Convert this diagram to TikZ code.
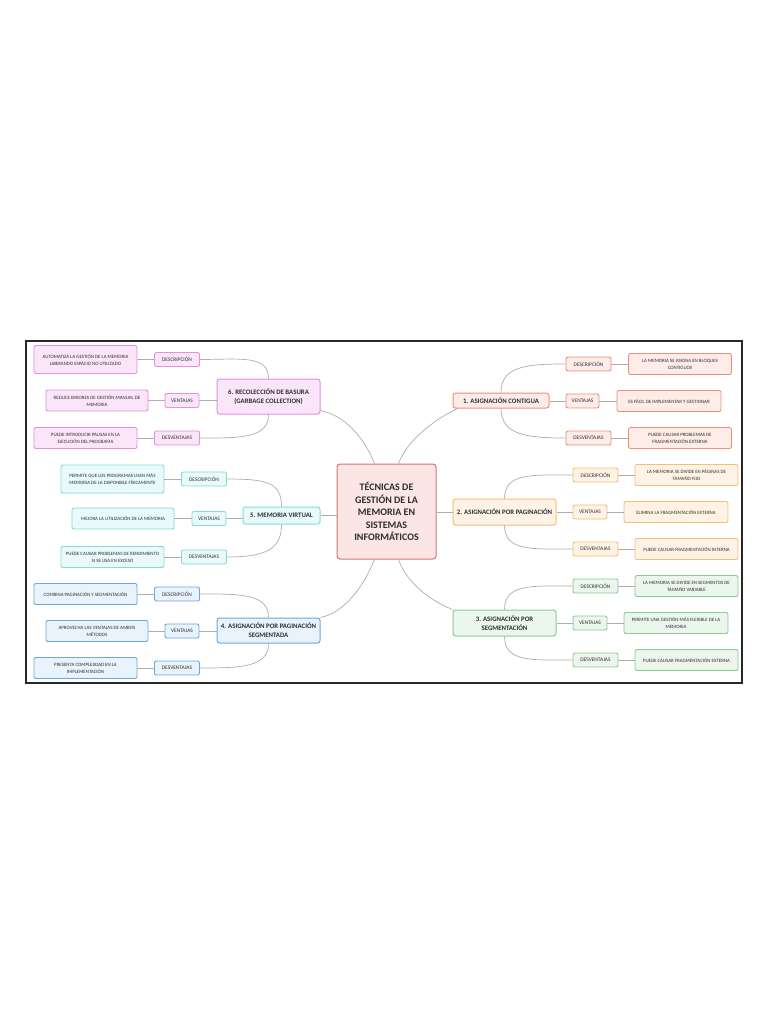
\documentclass[tikz,border=0pt]{standalone}
\usepackage{fontspec}
\setmainfont{Carlito}
\definecolor{rojoB}{HTML}{EE8F7C}    \definecolor{rojoF}{HTML}{FDECE7}
\definecolor{naranjaB}{HTML}{F4BF77} \definecolor{naranjaF}{HTML}{FEF3E5}
\definecolor{verdeB}{HTML}{8CCB96}   \definecolor{verdeF}{HTML}{EBF6EC}
\definecolor{azulB}{HTML}{6BA8DF}    \definecolor{azulF}{HTML}{E9F3FC}
\definecolor{cianB}{HTML}{86DADC}    \definecolor{cianF}{HTML}{E8FAFA}
\definecolor{rosaB}{HTML}{E48FDF}    \definecolor{rosaF}{HTML}{FBE5F8}
\definecolor{centroB}{HTML}{D8736E}  \definecolor{centroF}{HTML}{FBE6E5}
\definecolor{linea}{HTML}{ADADAD}
\definecolor{texto}{HTML}{2E2E2E}

\begin{document}
\begin{tikzpicture}[x=1pt, y=-1pt,
    root/.style = {draw=centroB, fill=centroF, line width=1pt, rounded corners=3, minimum width=99, minimum height=95, align=center, text=texto, font=\fontsize{10}{12.5}\selectfont\bfseries},
    branch/.style = {draw=#1B, fill=#1F, line width=1pt, rounded corners=2.5, minimum width=103, minimum height=25, inner sep=2, align=center, text=texto, font=\fontsize{6.8}{9}\selectfont\bfseries},
    tag/.style = {draw=#1B, fill=#1F, line width=0.9pt, rounded corners=2, minimum width=45, minimum height=14, inner sep=1, text=texto, font=\fontsize{5.4}{6}\selectfont},
    leaf/.style = {draw=#1B, fill=#1F, line width=0.9pt, rounded corners=2, minimum width=103, minimum height=21, inner sep=2, align=center, text=texto, font=\fontsize{4.9}{7}\selectfont},
    link/.style = {draw=linea, line width=0.7pt}]
    \useasboundingbox[fill=white] (0,0) rectangle (768,1024);
    \draw[line width=1.2pt, black!85] (26,341) rectangle (742,683);

    \node[root] (r) at (386.5,511.5) {TÉCNICAS DE\\GESTIÓN DE LA\\MEMORIA EN\\SISTEMAS\\INFORMÁTICOS};

    % 1. asignacion contigua
    \node[branch=rojo, minimum width=96, minimum height=15] (b1) at (501,400.5) {1. ASIGNACIÓN CONTIGUA};
    \node[tag=rojo] (d1) at (588.5,364) {DESCRIPCIÓN};
    \node[tag=rojo, minimum width=33] (v1) at (582.5,401) {VENTAJAS};
    \node[tag=rojo] (x1) at (588.5,438) {DESVENTAJAS};
    \node[leaf=rojo] (ld1) at (680,364) {LA MEMORIA SE ASIGNA EN BLOQUES\\CONTIGUOS};
    \node[leaf=rojo, minimum width=104] (lv1) at (669,401) {ES FÁCIL DE IMPLEMENTAR Y GESTIONAR};
    \node[leaf=rojo] (lx1) at (680,438) {PUEDE CAUSAR PROBLEMAS DE\\FRAGMENTACIÓN EXTERNA};

    % 2. paginacion
    \node[branch=naranja, minimum height=26] (b2) at (504.5,512) {2. ASIGNACIÓN POR PAGINACIÓN};
    \node[tag=naranja] (d2) at (595.5,475) {DESCRIPCIÓN};
    \node[tag=naranja, minimum width=34] (v2) at (590,512) {VENTAJAS};
    \node[tag=naranja] (x2) at (595.5,549) {DESVENTAJAS};
    \node[leaf=naranja] (ld2) at (686.5,475) {LA MEMORIA SE DIVIDE EN PÁGINAS DE\\TAMAÑO FIJO};
    \node[leaf=naranja, minimum width=104] (lv2) at (676,512) {ELIMINA LA FRAGMENTACIÓN EXTERNA};
    \node[leaf=naranja] (lx2) at (686.5,549) {PUEDE CAUSAR FRAGMENTACIÓN INTERNA};

    % 3. segmentacion
    \node[branch=verde, minimum height=26] (b3) at (504.5,623) {3. ASIGNACIÓN POR\\SEGMENTACIÓN};
    \node[tag=verde] (d3) at (595.5,586) {DESCRIPCIÓN};
    \node[tag=verde, minimum width=34] (v3) at (590,623) {VENTAJAS};
    \node[tag=verde] (x3) at (595.5,660) {DESVENTAJAS};
    \node[leaf=verde] (ld3) at (686.5,586) {LA MEMORIA SE DIVIDE EN SEGMENTOS DE\\TAMAÑO VARIABLE};
    \node[leaf=verde, minimum width=104] (lv3) at (676,623) {PERMITE UNA GESTIÓN MÁS FLEXIBLE DE LA\\MEMORIA};
    \node[leaf=verde] (lx3) at (686.5,660) {PUEDE CAUSAR FRAGMENTACIÓN EXTERNA};

    % 4. paginacion segmentada
    \node[branch=azul] (b4) at (268.5,630.5) {4. ASIGNACIÓN POR PAGINACIÓN\\SEGMENTADA};
    \node[tag=azul] (d4) at (177,594) {DESCRIPCIÓN};
    \node[tag=azul, minimum width=34] (v4) at (182,631) {VENTAJAS};
    \node[tag=azul] (x4) at (177,668) {DESVENTAJAS};
    \node[leaf=azul] (ld4) at (85.5,594) {COMBINA PAGINACIÓN Y SEGMENTACIÓN};
    \node[leaf=azul, minimum width=102] (lv4) at (97,631) {APROVECHA LAS VENTAJAS DE AMBOS\\MÉTODOS};
    \node[leaf=azul] (lx4) at (85.5,668) {PRESENTA COMPLEJIDAD EN LA\\IMPLEMENTACIÓN};

    % 5. memoria virtual
    \node[branch=cian, minimum width=77, minimum height=17] (b5) at (281.5,515.5) {5. MEMORIA VIRTUAL};
    \node[tag=cian] (d5) at (204,479) {DESCRIPCIÓN};
    \node[tag=cian, minimum width=34] (v5) at (209,518.5) {VENTAJAS};
    \node[tag=cian] (x5) at (204,557) {DESVENTAJAS};
    \node[leaf=cian, minimum height=28] (ld5) at (112.5,479) {PERMITE QUE LOS PROGRAMAS USEN MÁS\\MEMORIA DE LA DISPONIBLE FÍSICAMENTE};
    \node[leaf=cian, minimum width=102] (lv5) at (123,518.5) {MEJORA LA UTILIZACIÓN DE LA MEMORIA};
    \node[leaf=cian] (lx5) at (112.5,557) {PUEDE CAUSAR PROBLEMAS DE RENDIMIENTO\\SI SE USA EN EXCESO};

    % 6. recoleccion de basura
    \node[branch=rosa, minimum height=35] (b6) at (268.5,396.5) {6. RECOLECCIÓN DE BASURA\\(GARBAGE COLLECTION)};
    \node[tag=rosa] (d6) at (177,359.5) {DESCRIPCIÓN};
    \node[tag=rosa, minimum width=34] (v6) at (182,400.5) {VENTAJAS};
    \node[tag=rosa] (x6) at (177,438) {DESVENTAJAS};
    \node[leaf=rosa, minimum height=28] (ld6) at (85.5,359.5) {AUTOMATIZA LA GESTIÓN DE LA MEMORIA\\LIBERANDO ESPACIO NO UTILIZADO};
    \node[leaf=rosa, minimum width=102] (lv6) at (97,400.5) {REDUCE ERRORES DE GESTIÓN MANUAL DE\\MEMORIA};
    \node[leaf=rosa] (lx6) at (85.5,438) {PUEDE INTRODUCIR PAUSAS EN LA\\EJECUCIÓN DEL PROGRAMA};

    % centro a ramas
    \draw[link] ([yshift=4]b6.south east) .. controls +(25,5) and +(-10,-25) .. ([xshift=-12]r.north);
    \draw[link] (b5.east) -- (b5.east -| r.west);
    \draw[link] (b4.north east) .. controls +(25,-5) and +(-10,25) .. ([xshift=-12]r.south);
    \draw[link] ([xshift=5]b1.south west) .. controls +(-25,12) and +(8,-22) .. ([xshift=12]r.north);
    \draw[link] (b2.west) -- (b2.west -| r.east);
    \draw[link] (b3.north west) .. controls +(-25,-10) and +(8,22) .. ([xshift=12]r.south);

    % ramas a etiquetas
    \foreach \i in {1,2,3} {
        \draw[link] (b\i.north) .. controls +(0,-26) and +(-40,0) .. (d\i.west);
        \draw[link] (b\i.south) .. controls +(0,26) and +(-40,0) .. (x\i.west);
        \draw[link] (v\i) -- (v\i -| b\i.east);
    }
    \foreach \i in {4,5,6} {
        \draw[link] (b\i.north) .. controls +(0,-24) and +(40,0) .. (d\i.east);
        \draw[link] (b\i.south) .. controls +(0,24) and +(40,0) .. (x\i.east);
        \draw[link] (v\i) -- (v\i -| b\i.west);
    }

    % etiquetas a hojas
    \foreach \i in {1,...,6}
        \foreach \t in {d,v,x}
            \draw[link] (\t\i) -- (l\t\i);
\end{tikzpicture}
\end{document}
